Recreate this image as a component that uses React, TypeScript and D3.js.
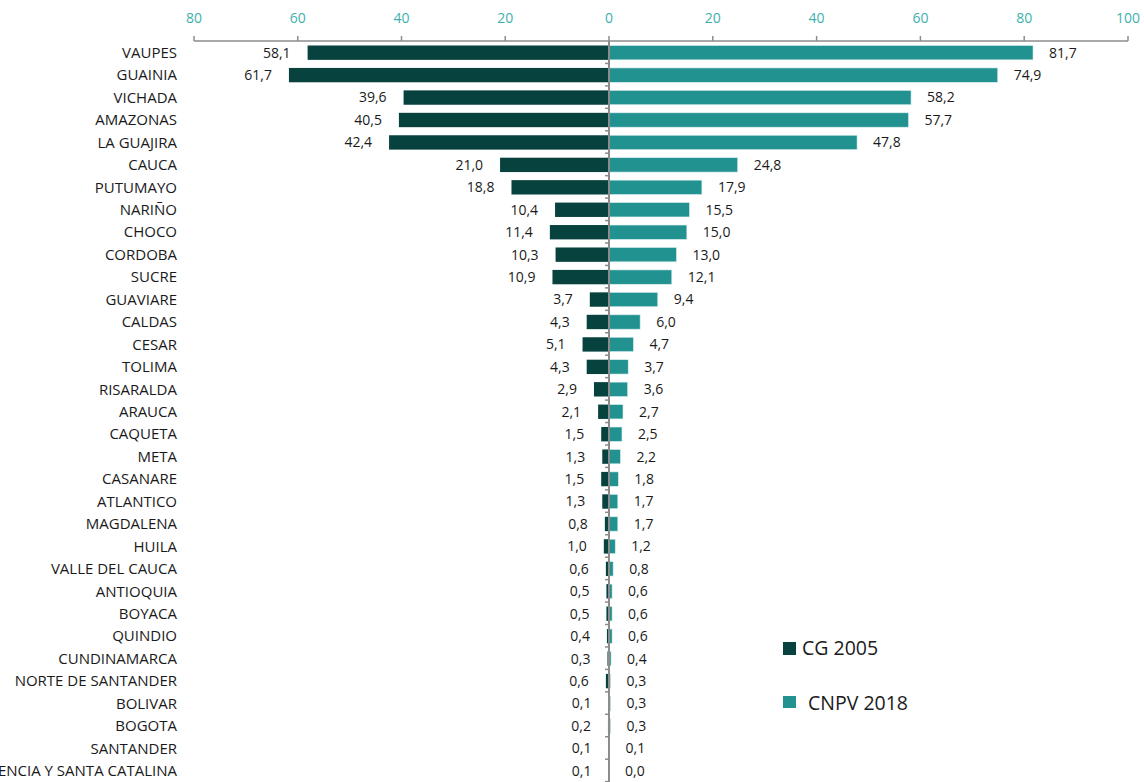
import React from "react";
import * as d3 from "d3";

const categories = [
  "VAUPES", "GUAINIA", "VICHADA", "AMAZONAS", "LA GUAJIRA", "CAUCA", "PUTUMAYO", "NARIÑO",
  "CHOCO", "CORDOBA", "SUCRE", "GUAVIARE", "CALDAS", "CESAR", "TOLIMA", "RISARALDA", "ARAUCA",
  "CAQUETA", "META", "CASANARE", "ATLANTICO", "MAGDALENA", "HUILA", "VALLE DEL CAUCA",
  "ANTIOQUIA", "BOYACA", "QUINDIO", "CUNDINAMARCA", "NORTE DE SANTANDER", "BOLIVAR", "BOGOTA",
  "SANTANDER", "ARCHIPIELAGO DE SAN ANDRES, PROVIDENCIA Y SANTA CATALINA",
];
const cg2005 = [
  58.1, 61.7, 39.6, 40.5, 42.4, 21.0, 18.8, 10.4, 11.4, 10.3, 10.9, 3.7, 4.3, 5.1, 4.3, 2.9, 2.1,
  1.5, 1.3, 1.5, 1.3, 0.8, 1.0, 0.6, 0.5, 0.5, 0.4, 0.3, 0.6, 0.1, 0.2, 0.1, 0.1,
];
const cnpv2018 = [
  81.7, 74.9, 58.2, 57.7, 47.8, 24.8, 17.9, 15.5, 15.0, 13.0, 12.1, 9.4, 6.0, 4.7, 3.7, 3.6, 2.7,
  2.5, 2.2, 1.8, 1.7, 1.7, 1.2, 0.8, 0.6, 0.6, 0.6, 0.4, 0.3, 0.3, 0.3, 0.1, 0.0,
];
const leftTicks = [80, 60, 40, 20, 0];
const rightTicks = [0, 20, 40, 60, 80, 100];
const seriesNames = ["CG 2005", "CNPV 2018"];

const W = 1144;
const H = 782;
const DARK = "#07423F";
const TEAL = "#229291";
const AXIS = "#8C8C8C";
const TICKTXT = "#3DB1AD";
const FONT = "'Open Sans', 'Noto Sans', sans-serif";

const fmt = (v: number) => v.toFixed(1).replace(".", ",");

export default function App() {
  const x0 = 609;
  const axisY = 41;
  const xLeft = d3.scaleLinear().domain([0, 80]).range([x0, 194]);
  const xRight = d3.scaleLinear().domain([0, 100]).range([x0, 1128]);
  const y = d3
    .scaleBand<string>()
    .domain(categories)
    .range([axisY, axisY + categories.length * 22.47])
    .paddingInner(0.36)
    .paddingOuter(0.2);
  const bw = y.bandwidth();
  const step = y.step();
  const bandTop = axisY;

  return (
    <svg
      width={W}
      height={H}
      style={{ position: "absolute", left: 0, top: 0, background: "#fff" }}
      fontFamily={FONT}
    >
      {/* top axes */}
      <line x1={xLeft(80)} x2={x0} y1={axisY} y2={axisY} stroke={AXIS} strokeWidth={1.5} />
      <line x1={x0} x2={xRight(100)} y1={axisY} y2={axisY} stroke={AXIS} strokeWidth={1.5} />
      {leftTicks.map((t) => (
        <g key={"l" + t}>
          <line x1={xLeft(t)} x2={xLeft(t)} y1={axisY - 5} y2={axisY} stroke={AXIS} strokeWidth={1.5} />
          <text x={xLeft(t)} y={23} textAnchor="middle" fontSize={14} fill={TICKTXT}>
            {t}
          </text>
        </g>
      ))}
      {rightTicks.map((t) =>
        t === 0 ? null : (
          <g key={"r" + t}>
            <line x1={xRight(t)} x2={xRight(t)} y1={axisY - 5} y2={axisY} stroke={AXIS} strokeWidth={1.5} />
            <text x={xRight(t)} y={23} textAnchor="middle" fontSize={14} fill={TICKTXT}>
              {t}
            </text>
          </g>
        )
      )}

      {categories.map((c, i) => {
        const yc = (y(c) as number) + bw / 2;
        return (
          <g key={c}>
            <rect
              x={xLeft(cg2005[i])}
              y={y(c)}
              width={x0 - xLeft(cg2005[i])}
              height={bw}
              fill={DARK}
            />
            <rect
              x={x0}
              y={y(c)}
              width={xRight(cnpv2018[i]) - x0}
              height={bw}
              fill={TEAL}
              stroke="#d8eeee"
              strokeWidth={0.6}
            />
            <text x={177} y={yc} dy="0.35em" textAnchor="end" fontSize={15} fill="#1a1a1a">
              {c}
            </text>
            <text x={xLeft(cg2005[i]) - 17} y={yc} dy="0.35em" textAnchor="end" fontSize={14} fill="#1a1a1a">
              {fmt(cg2005[i])}
            </text>
            <text x={xRight(cnpv2018[i]) + 16} y={yc} dy="0.35em" textAnchor="start" fontSize={14} fill="#1a1a1a">
              {fmt(cnpv2018[i])}
            </text>
          </g>
        );
      })}

      {/* center axis */}
      <line x1={x0} x2={x0} y1={axisY} y2={H} stroke={AXIS} strokeWidth={2} />
      {categories.map((c, i) => (
        <line
          key={"t" + c}
          x1={x0 - 4}
          x2={x0}
          y1={bandTop + (i + 1) * step}
          y2={bandTop + (i + 1) * step}
          stroke={AXIS}
          strokeWidth={1.5}
        />
      ))}

      {/* legend */}
      <rect x={783} y={642} width={13} height={13} fill={DARK} />
      <text x={802} y={655} fontSize={19.5} fill="#1a1a1a">
        {seriesNames[0]}
      </text>
      <rect x={783} y={696} width={13} height={12} fill={TEAL} />
      <text x={808} y={710} fontSize={19.5} fill="#1a1a1a">
        {seriesNames[1]}
      </text>
    </svg>
  );
}
